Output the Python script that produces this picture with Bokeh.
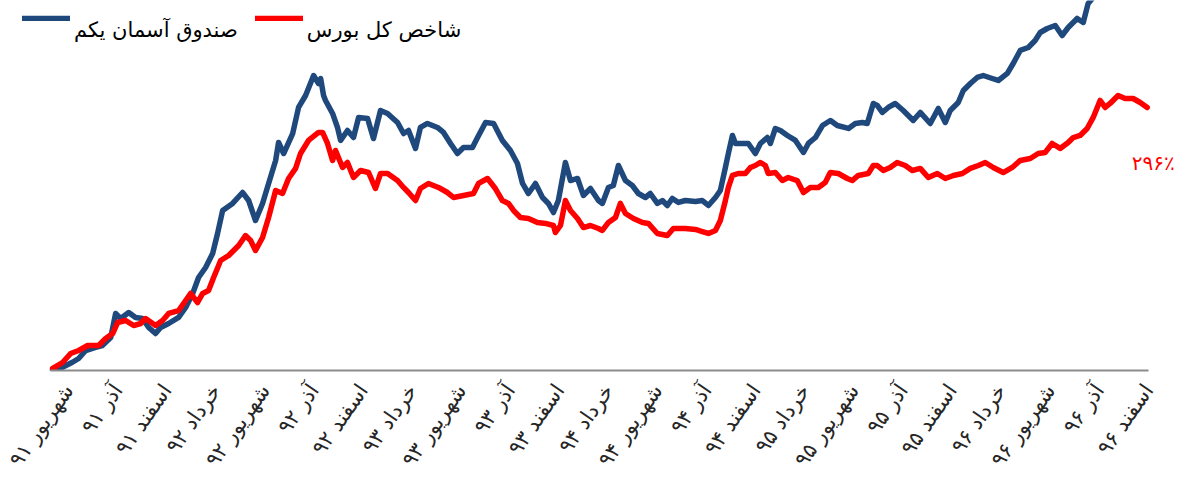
from bokeh.plotting import figure
from bokeh.models import Range1d, FixedTicker, Legend, LegendItem, Label
from bokeh.embed import file_html
from bokeh.resources import INLINE

# months since start of Shahrivar 91 ; cumulative return in percent
blue_m = [-1.00,-0.38,0.23,0.61,1.04,1.65,2.06,2.57,2.87,3.18,
          3.67,4.09,4.52,4.89,5.31,5.62,6.11,6.72,7.15,7.58,
          7.94,8.37,8.80,9.10,9.41,10.02,10.63,11.00,11.42,11.85,
          12.22,12.65,12.83,13.14,13.69,14.05,14.48,14.97,15.27,15.40,
          15.58,15.70,16.13,16.43,16.62,17.04,17.41,17.72,18.27,18.63,
          19.06,19.49,20.10,20.47,20.77,21.20,21.50,21.93,22.54,22.91,
          23.34,23.76,24.13,24.68,24.99,25.48,25.97,26.51,27.00,27.43,
          27.74,28.10,28.53,28.96,29.32,29.63,29.93,30.36,30.67,31.10,
          31.46,31.89,32.38,32.62,32.99,33.29,33.60,34.03,34.45,34.82,
          35.25,35.55,35.98,36.29,36.59,36.90,37.27,37.69,38.31,38.73,
          39.10,39.53,39.83,40.14,40.32,40.57,40.75,41.18,41.54,41.97,
          42.28,42.70,42.89,43.19,43.50,43.93,44.42,44.91,45.21,45.64,
          46.07,46.56,46.98,47.66,48.08,48.51,48.81,49.18,49.42,49.73,
          50.09,50.52,51.01,51.62,52.05,52.66,53.15,53.58,53.88,54.37,
          54.68,55.11,55.53,55.90,56.45,56.82,57.37,57.73,58.16,58.65,
          59.07,59.38,59.81,60.30,60.72,61.09,61.64,62.01,62.31,62.62,
          63.35,64.27,65.18,65.92]
blue_v = [0,3.7,9.3,13.5,22.5,25.9,28.1,37.1,64.2,58.5,
          65.3,59.7,58.5,48.4,41.6,48.4,52.9,59.7,70.9,86.7,
          104.7,115.9,131.7,154.2,180.1,188.0,200.3,191.3,168.8,188.0,
          210.5,236.4,256.6,244.2,266.7,296.0,309.5,332.0,323.0,328.6,
          309.5,303.9,289.3,273.5,258.9,270.1,262.2,284.7,283.6,261.1,
          292.6,289.3,279.1,266.7,270.1,249.9,273.5,278.0,273.5,267.9,
          255.5,244.2,251.0,251.0,262.2,279.1,278.0,258.9,247.6,233.0,
          210.5,199.2,210.5,194.7,188.0,177.8,191.3,234.1,213.8,216.1,
          197.0,204.8,191.3,188.0,206.0,208.2,230.7,213.8,208.2,199.2,
          194.7,199.2,188.0,191.3,185.7,193.6,189.1,191.3,190.2,191.3,
          185.7,194.7,202.6,228.5,244.2,264.5,255.5,255.5,255.5,244.2,
          255.5,262.2,255.5,272.4,270.1,264.5,258.9,245.4,255.5,262.2,
          275.7,281.4,275.7,272.4,278.0,279.1,278.0,300.5,298.3,290.4,
          296.0,300.5,292.6,281.4,290.4,278.0,294.9,279.1,292.6,301.6,
          315.1,323.0,329.8,332.0,328.6,326.4,334.3,345.5,360.2,363.5,
          371.4,380.4,384.9,388.3,377.0,386.0,396.2,391.7,413.1,419.8,
          427.7,436.7,441.2,448.0]

red_m = [-0.98,-0.37,0.12,0.61,1.16,1.83,2.26,2.69,2.99,3.48,
         3.97,4.40,4.70,5.31,5.74,6.11,6.72,7.15,7.45,7.88,
         8.19,8.55,8.86,9.29,9.78,10.39,10.81,11.12,11.42,11.85,
         12.22,12.65,13.07,13.44,13.87,14.17,14.66,15.27,15.52,15.82,
         16.13,16.31,16.74,17.04,17.41,17.84,18.33,18.75,19.06,19.49,
         20.10,20.47,20.77,21.20,21.50,21.99,22.60,23.15,23.52,24.13,
         24.74,25.05,25.60,26.08,26.51,26.88,27.19,27.61,28.10,28.65,
         29.14,29.63,29.75,30.06,30.36,30.67,31.10,31.46,31.89,32.38,
         32.62,32.99,33.42,33.72,34.03,34.52,35.07,35.43,35.98,36.59,
         36.96,37.69,38.31,38.73,39.10,39.53,39.83,40.14,40.32,40.57,
         40.93,41.36,41.67,41.97,42.28,42.58,42.76,43.19,43.62,43.98,
         44.53,44.91,45.33,45.82,46.24,46.55,47.04,47.59,47.89,48.26,
         48.87,49.18,49.42,49.79,50.21,50.64,51.13,51.56,52.05,52.54,
         53.09,53.58,54.07,54.62,55.11,55.60,56.02,56.51,57.12,57.67,
         58.16,58.77,59.26,59.69,60.11,60.60,61.09,61.40,61.82,62.25,
         62.62,63.04,63.35,63.65,64.14,64.57,65.06,65.49,65.92]
red_v = [2.3,9.0,19.1,22.5,28.1,28.1,36.0,41.6,54.0,56.3,
         50.6,52.9,58.5,50.6,56.3,64.2,67.5,78.8,86.7,76.5,
         86.7,90.0,104.7,123.8,129.4,140.7,151.9,146.3,135.1,149.7,
         172.2,202.6,199.2,216.1,227.4,244.2,258.9,267.9,267.9,255.5,
         236.4,247.6,228.5,234.1,217.2,225.1,222.8,204.8,221.7,221.7,
         213.8,206.0,200.3,191.3,204.8,210.5,206.0,200.3,194.7,197.0,
         199.2,210.5,216.1,204.8,191.3,188.0,180.1,172.2,171.1,166.6,
         165.5,163.2,155.3,163.2,191.3,180.1,171.1,160.9,163.2,159.8,
         157.6,166.6,172.2,188.0,176.7,171.1,166.6,165.5,154.2,151.9,
         159.8,159.8,158.7,156.4,154.2,157.6,168.8,191.3,206.0,219.5,
         221.7,221.7,228.5,230.7,234.1,230.7,221.7,222.8,213.8,217.2,
         213.8,200.3,206.0,206.0,211.6,222.8,221.7,216.1,213.8,219.5,
         221.7,230.7,230.7,225.1,228.5,234.1,230.7,225.1,227.4,217.2,
         221.7,216.1,219.5,221.7,227.4,230.7,234.1,228.5,222.8,228.5,
         236.4,238.6,244.2,245.4,255.5,249.9,256.6,262.2,264.5,272.4,
         284.8,303.9,296.0,300.5,309.5,306.1,306.1,301.6,296.0]

tick_months = [0, 3, 6, 9, 12, 15, 18, 21, 24, 27, 30, 33, 36, 39, 42, 45, 48, 51, 54, 57, 60, 63, 66]
tick_labels = ["شهریور ۹۱", "آذر ۹۱", "اسفند ۹۱", "خرداد ۹۲", "شهریور ۹۲", "آذر ۹۲",
               "اسفند ۹۲", "خرداد ۹۳", "شهریور ۹۳", "آذر ۹۳", "اسفند ۹۳", "خرداد ۹۴",
               "شهریور ۹۴", "آذر ۹۴", "اسفند ۹۴", "خرداد ۹۵", "شهریور ۹۵", "آذر ۹۵",
               "اسفند ۹۵", "خرداد ۹۶", "شهریور ۹۶", "آذر ۹۶", "اسفند ۹۶"]
series_names = ["صندوق آسمان یکم", "شاخص کل بورس"]
end_label = "۲۹۶٪"

FONT = "DejaVu Sans"
BLUE = "#1F497D"
RED = "#FF0000"

# axis runs from X0 to X_AXIS_END; the frame is wider on both sides for legend / label room
X0, X_AXIS_END = -1.11, 66.0
XL, XR = -4.166, 68.26

p = figure(frame_width=1185, frame_height=370, output_backend="svg", toolbar_location=None,
           x_range=Range1d(XL, XR), y_range=Range1d(0, 416.4),
           min_border_left=0, min_border_right=0, min_border_top=0, min_border_bottom=108)
p.outline_line_color = None
p.xgrid.visible = False
p.ygrid.visible = False
p.yaxis.visible = False

r_blue = p.line(blue_m, blue_v, line_color=BLUE, line_width=5.5, line_join="round", line_cap="round")
r_red = p.line(red_m, red_v, line_color=RED, line_width=5.5, line_join="round", line_cap="round")

ax = p.xaxis[0]
ax.bounds = (X0, X_AXIS_END)
ax.ticker = FixedTicker(ticks=tick_months)
ax.major_label_overrides = {t: l for t, l in zip(tick_months, tick_labels)}
ax.major_label_orientation = 0.96
ax.major_label_text_font = FONT
ax.major_label_text_font_size = "21px"
ax.major_label_text_color = "#262626"
ax.major_label_standoff = 10
ax.major_tick_line_color = None
ax.minor_tick_line_color = None
ax.axis_line_color = "#8C8C8C"
ax.axis_line_width = 2

legend = Legend(items=[LegendItem(label="\n" + series_names[0], renderers=[r_blue]),
                       LegendItem(label="\n" + series_names[1], renderers=[r_red])],
                orientation="horizontal", location=(22, 328),
                border_line_color=None, background_fill_alpha=0,
                padding=0, margin=0, spacing=17, glyph_width=48, glyph_height=6,
                label_height=30, label_standoff=4,
                label_text_font=FONT, label_text_font_size="21px", label_text_color="#000000")
p.add_layout(legend)

p.add_layout(Label(x=red_m[-1], y=red_v[-1], x_offset=6, y_offset=-56, text=end_label,
                   text_align="center", text_baseline="middle", text_color=RED,
                   text_font=FONT, text_font_size="20px"))

open("out.html", "w").write(file_html(p, INLINE))
